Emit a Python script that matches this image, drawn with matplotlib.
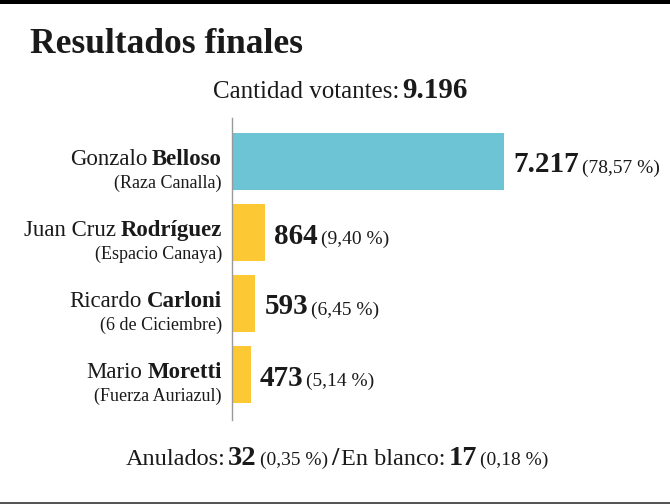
import matplotlib
matplotlib.use("Agg")
import matplotlib.pyplot as plt
from matplotlib.transforms import IdentityTransform
from matplotlib.patches import Rectangle

first_names = ["Gonzalo", "Juan Cruz", "Ricardo", "Mario"]
surnames = ["Belloso", "Rodríguez", "Carloni", "Moretti"]
parties = ["(Raza Canalla)", "(Espacio Canaya)", "(6 de Ciciembre)", "(Fuerza Auriazul)"]
votes = [7217, 864, 593, 473]
vote_labels = ["7.217", "864", "593", "473"]
pct_labels = ["(78,57 %)", "(9,40 %)", "(6,45 %)", "(5,14 %)"]
colors = ["#6cc4d4", "#fcc935", "#fcc935", "#fcc935"]

total_label = "9.196"
null_votes, null_pct = "32", "(0,35 %)"
blank_votes, blank_pct = "17", "(0,18 %)"

W, H = 670, 504
FONT = "Liberation Serif"

fig = plt.figure(figsize=(W / 100, H / 100), dpi=100)
fig.patch.set_facecolor("white")

# bar area: x 233..633 px, y 118..420 px (from top)
ax = fig.add_axes([233 / W, 1 - 420 / H, 400 / W, 302 / H])
ypos = list(range(len(votes)))
ax.barh(ypos, votes, height=0.8, color=colors)
ax.set_xlim(0, 7217 * 400 / 271)
ax.set_ylim(3.64, -0.61)
for s in ["top", "right", "bottom"]:
    ax.spines[s].set_visible(False)
ax.spines["left"].set_color("#999999")
ax.spines["left"].set_linewidth(1.0)
ax.spines["left"].set_position(("data", -20))
ax.set_xticks([])
ax.set_yticks([])

renderer = fig.canvas.get_renderer()


def runs(x, y, parts, ha="left"):
    """parts: (text, size, weight, gap_after_px). x,y in px from top-left, y = baseline."""
    arts = []
    widths = []
    for txt, size, weight, gap in parts:
        t = fig.text(0, 0, txt, transform=IdentityTransform(), fontsize=size,
                     fontweight=weight, family=FONT, va="baseline", ha="left",
                     color="#1a1a1a")
        arts.append(t)
        widths.append(t.get_window_extent(renderer).width + gap)
    total = sum(widths) - parts[-1][3]
    if ha == "right":
        x0 = x - total
    elif ha == "center":
        x0 = x - total / 2
    else:
        x0 = x
    for t, w in zip(arts, widths):
        t.set_position((x0, H - y))
        x0 += w


# frame lines
fig.add_artist(Rectangle((0, 1 - 4 / H), 1, 4 / H, transform=fig.transFigure,
                         color="black", lw=0))
fig.add_artist(Rectangle((0, 0), 1, 2 / H, transform=fig.transFigure,
                         color="#555555", lw=0))

runs(30, 53, [("Resultados finales", 25.5, "bold", 0)])
runs(340, 98, [("Cantidad votantes:", 18, "normal", 3),
               (total_label, 21, "bold", 0)], ha="center")

centers = [161.5, 232.5, 303.5, 374.5]
for i in ypos:
    c = centers[i]
    runs(222, c + 3.5, [(first_names[i], 16.5, "normal", 5),
                        (surnames[i], 16.5, "bold", 0)], ha="right")
    runs(222, c + 26.5, [(parties[i], 13, "normal", 0)], ha="right")
    bar_end = 233 + votes[i] * 271 / 7217
    runs(bar_end + 9, c + 11, [(vote_labels[i], 21, "bold", 3),
                               (pct_labels[i], 14, "normal", 0)])

runs(337, 465, [("Anulados:", 17.5, "normal", 3),
                (null_votes, 20.5, "bold", 3),
                (null_pct, 14, "normal", 3),
                ("/", 19, "bold", 3),
                ("En blanco:", 17.5, "normal", 3),
                (blank_votes, 20.5, "bold", 3),
                (blank_pct, 14, "normal", 0)], ha="center")

fig.savefig("out.png", dpi=100)
